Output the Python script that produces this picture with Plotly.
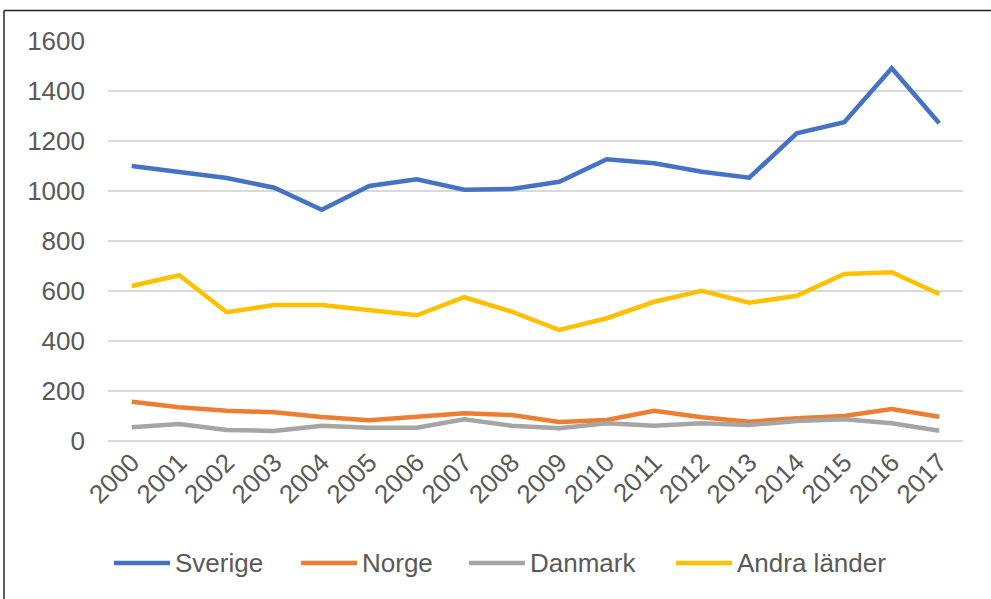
import plotly.graph_objects as go

years = [str(y) for y in range(2000, 2018)]

sverige = [1100, 1077, 1052, 1013, 925, 1020, 1047, 1005, 1008, 1037,
           1127, 1111, 1077, 1053, 1231, 1275, 1491, 1271]
norge = [157, 135, 121, 115, 96, 83, 97, 111, 104, 76,
         84, 121, 95, 77, 91, 100, 128, 97]
danmark = [55, 68, 44, 40, 61, 53, 53, 87, 61, 51,
           71, 61, 71, 64, 80, 87, 71, 41]
andra = [620, 663, 515, 544, 544, 524, 503, 575, 517, 444,
         491, 557, 601, 553, 581, 668, 675, 588]

names = ["Sverige", "Norge", "Danmark", "Andra länder"]
colors = ["#4472C4", "#ED7D31", "#A5A5A5", "#FFC000"]
values = [sverige, norge, danmark, andra]

# plot area in pixels, used to place the hand-drawn legend and frame
L, R, T, B = 108, 28, 41, 158
W, H = 991, 599
pw, ph = W - L - R, H - T - B

def px_x(x):
    return (x - L) / pw

def px_y(y):
    return (H - B - y) / ph

fig = go.Figure()
for name, vals, color in zip(names, values, colors):
    fig.add_trace(go.Scatter(
        x=years, y=vals, mode="lines", name=name, showlegend=False,
        line=dict(color=color, width=4.5),
    ))

# legend drawn by hand: 55px line then the label
legend_x = [114, 301, 469, 676]
ly = px_y(563)
for x0, name, color in zip(legend_x, names, colors):
    fig.add_shape(type="line", xref="paper", yref="paper",
                  x0=px_x(x0), x1=px_x(x0 + 56), y0=ly, y1=ly,
                  line=dict(color=color, width=4.5))
    fig.add_annotation(xref="paper", yref="paper", x=px_x(x0 + 59), y=ly,
                       xanchor="left", yanchor="middle", showarrow=False,
                       text=name, font=dict(size=26, color="#595959"))

# outer frame (top and left edge visible in the original)
fig.add_shape(type="line", xref="paper", yref="paper",
              x0=px_x(4), x1=px_x(995), y0=px_y(10.5), y1=px_y(10.5),
              line=dict(color="#262626", width=1.5))
fig.add_shape(type="line", xref="paper", yref="paper",
              x0=px_x(4), x1=px_x(4), y0=px_y(10.5), y1=px_y(605),
              line=dict(color="#262626", width=1.5))

fig.update_layout(
    width=W, height=H,
    margin=dict(l=L, r=R, t=T, b=B),
    paper_bgcolor="white", plot_bgcolor="white",
    font=dict(family="Liberation Sans, Arial, sans-serif", size=26, color="#595959"),
    showlegend=False,
    xaxis=dict(type="category", range=[-0.5, 17.5], tickangle=-45, automargin=False,
               showgrid=False, showline=False, zeroline=False, ticks=""),
    yaxis=dict(range=[0, 1600], dtick=200, showgrid=True, gridcolor="#D9D9D9",
               gridwidth=1.5, zeroline=True, zerolinecolor="#D9D9D9", zerolinewidth=1.5,
               showline=False, ticks="", ticklabelstandoff=22, automargin=False),
)

# drop the browser's default body margin so the figure sits at the page corner
fig.write_html("out.html", config={"displayModeBar": False},
               post_script="document.body.style.margin='0';")
